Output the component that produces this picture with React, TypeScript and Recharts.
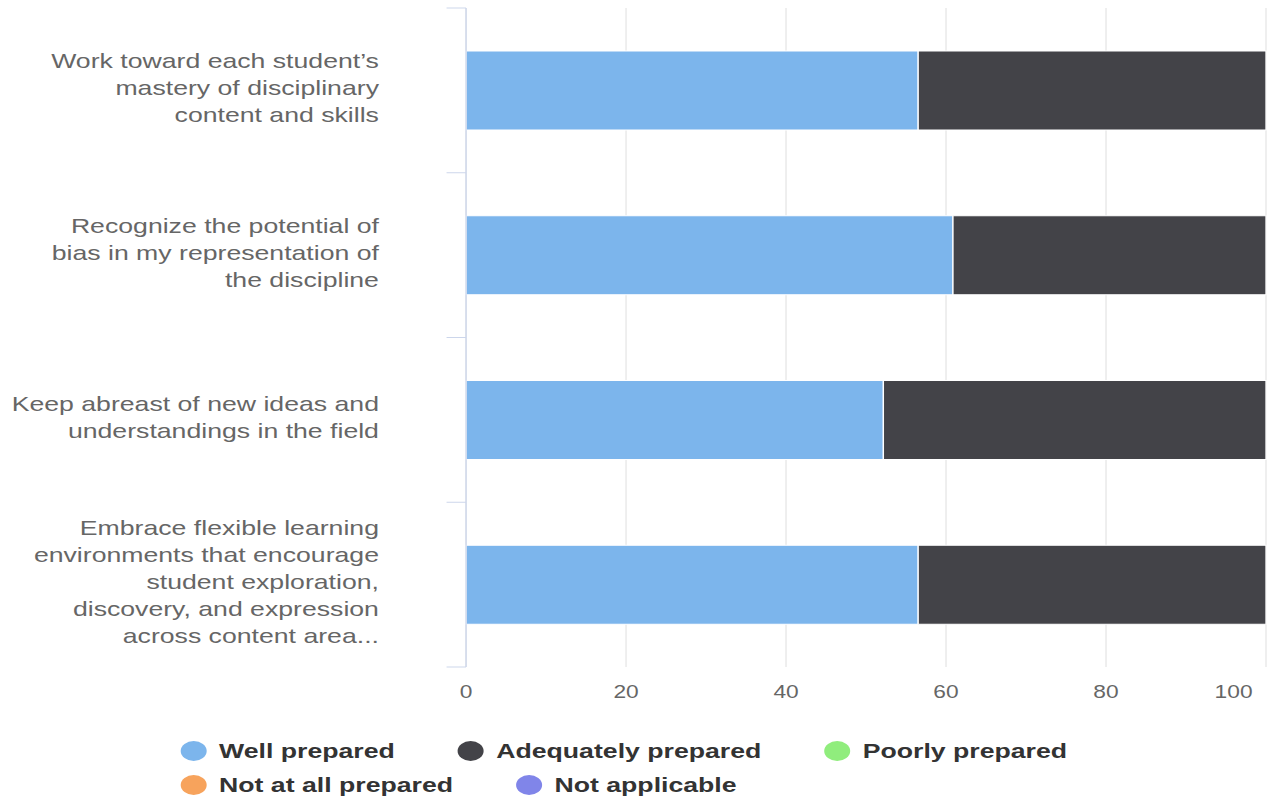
import { BarChart, Bar, XAxis, YAxis, CartesianGrid } from "recharts";

// category labels keep their line breaks from the original chart
const CATEGORIES = [
  "Work toward each student’s\nmastery of disciplinary\ncontent and skills",
  "Recognize the potential of\nbias in my representation of\nthe discipline",
  "Keep abreast of new ideas and\nunderstandings in the field",
  "Embrace flexible learning\nenvironments that encourage\nstudent exploration,\ndiscovery, and expression\nacross content area...",
];

const WELL = [56.52, 60.87, 52.17, 56.52];
const ADEQUATE = [43.48, 39.13, 47.83, 43.48];
const POORLY = [0, 0, 0, 0];
const NOT_AT_ALL = [0, 0, 0, 0];
const NOT_APPLICABLE = [0, 0, 0, 0];

const X_TICKS = [0, 20, 40, 60, 80, 100];

const SERIES = [
  { key: "well", name: "Well prepared", color: "#7cb5ec", values: WELL },
  { key: "adequate", name: "Adequately prepared", color: "#434348", values: ADEQUATE },
  { key: "poorly", name: "Poorly prepared", color: "#90ed7d", values: POORLY },
  { key: "notAtAll", name: "Not at all prepared", color: "#f7a35c", values: NOT_AT_ALL },
  { key: "na", name: "Not applicable", color: "#8085e9", values: NOT_APPLICABLE },
];

const data = CATEGORIES.map((name, i) => {
  const row: Record<string, string | number> = { name };
  SERIES.forEach((s) => {
    row[s.key] = s.values[i];
  });
  return row;
});

// the reference is stretched sideways, so the chart is drawn narrower and scaled
const STRETCH = 1.3;
const W = 978;
const H = 801;
const TOP = 8;
const PLOT_BOTTOM = 667;
const PLOT_H = PLOT_BOTTOM - TOP;
const PLOT_LEFT = 358.5;
const BAND = PLOT_H / CATEGORIES.length;
const FONT = '"Liberation Sans", Arial, Helvetica, sans-serif';

function CategoryTick(props: any) {
  const { y, payload, index } = props;
  const lines = String(payload.value).split("\n");
  const mid = y - 2.5;
  const edge = y - BAND / 2;
  return (
    <g>
      <line x1={PLOT_LEFT - 15} x2={PLOT_LEFT} y1={edge} y2={edge} stroke="#ccd6eb" />
      {index === CATEGORIES.length - 1 && (
        <line
          x1={PLOT_LEFT - 15}
          x2={PLOT_LEFT}
          y1={y + BAND / 2}
          y2={y + BAND / 2}
          stroke="#ccd6eb"
        />
      )}
      <text textAnchor="end" fill="#666666" fontSize={20.5} fontFamily={FONT}>
        {lines.map((line, i) => (
          <tspan key={i} x={291.5} y={mid + (i - (lines.length - 1) / 2) * 27 + 7}>
            {line}
          </tspan>
        ))}
      </text>
    </g>
  );
}

// last label is pulled inside the plot, like the original
function ValueTick(props: any) {
  const { x, y, payload, index } = props;
  const last = index === X_TICKS.length - 1;
  return (
    <text
      x={last ? x - 2.5 : x}
      y={y + 12.5}
      textAnchor={last ? "end" : "middle"}
      fill="#666666"
      fontSize={17.5}
      fontFamily={FONT}
    >
      {payload.value}
    </text>
  );
}

export default function App() {
  return (
    <div style={{ position: "absolute", left: 0, top: 0, width: 1271, height: 801, overflow: "hidden", background: "#fff" }}>
      <div
        style={{
          position: "relative",
          width: W,
          height: H,
          transform: `scale(${STRETCH}, 1)`,
          transformOrigin: "0 0",
          fontFamily: FONT,
        }}
      >
        <BarChart
          width={W}
          height={H}
          data={data}
          layout="vertical"
          margin={{ top: TOP, right: W - 1266 / STRETCH, bottom: H - PLOT_BOTTOM - 30, left: 0 }}
        >
          <CartesianGrid horizontal={false} stroke="#e6e6e6" />
          <XAxis
            type="number"
            domain={[0, 100]}
            ticks={X_TICKS}
            axisLine={false}
            tickLine={false}
            tickMargin={13}
            height={30}
            tick={<ValueTick />}
          />
          <YAxis
            type="category"
            dataKey="name"
            width={PLOT_LEFT}
            interval={0}
            axisLine={{ stroke: "#ccd6eb" }}
            tickLine={false}
            tick={<CategoryTick />}
          />
          {SERIES.map((s) => (
            <Bar
              key={s.key}
              dataKey={s.key}
              name={s.name}
              stackId="a"
              fill={s.color}
              stroke="#ffffff"
              strokeWidth={1}
              barSize={79}
              isAnimationActive={false}
            />
          ))}
        </BarChart>
        <div
          style={{
            position: "absolute",
            left: 138.5,
            top: 734,
            width: 720,
            display: "flex",
            flexWrap: "wrap",
            columnGap: 48,
          }}
        >
          {SERIES.map((s) => (
            <div key={s.key} style={{ display: "flex", alignItems: "center", height: 34 }}>
              <span
                style={{
                  display: "inline-block",
                  width: 20,
                  height: 20,
                  borderRadius: "50%",
                  background: s.color,
                  marginRight: 10,
                }}
              />
              <span style={{ fontSize: 20.5, fontWeight: "bold", color: "#333333" }}>{s.name}</span>
            </div>
          ))}
        </div>
      </div>
    </div>
  );
}
